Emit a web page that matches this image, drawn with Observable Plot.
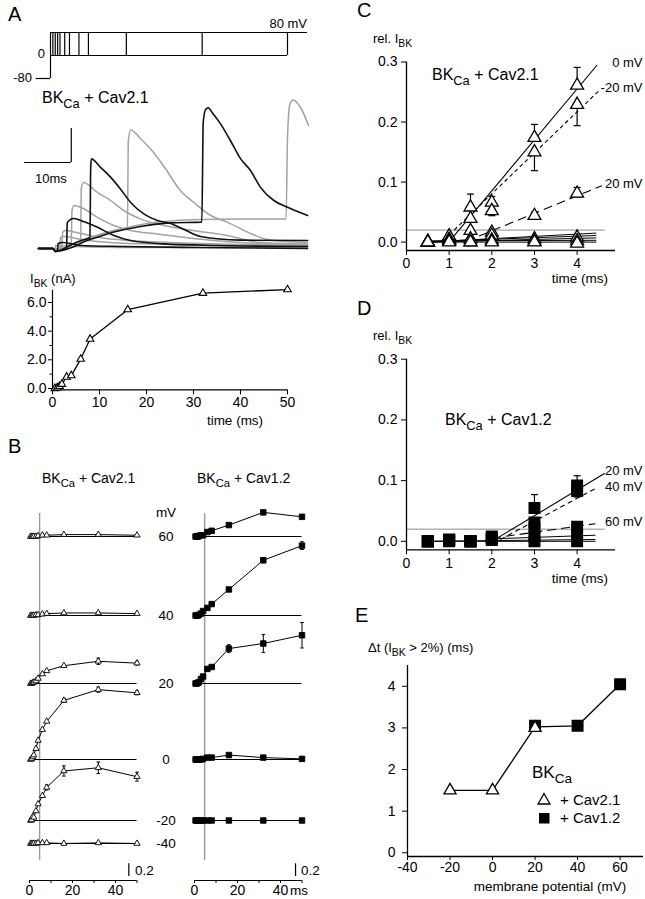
<!DOCTYPE html>
<html><head><meta charset="utf-8">
<script src="https://cdn.jsdelivr.net/npm/d3@7"></script>
<script src="https://cdn.jsdelivr.net/npm/@observablehq/plot@0.6"></script>
<style>
html,body{margin:0;padding:0;background:#fff;}
#fig{position:relative;width:645px;height:899px;overflow:hidden;background:#fff;}
</style></head><body><div id="fig"></div>
<script>
// ================= DATA =================
// Panel A – voltage protocol (mV, ms)
const protoHold = -80, protoStep = 80, protoTail = 0;
const pulseDurations = [0.5, 1, 1.5, 2, 3, 4, 6, 8, 16, 32, 50];
const protoStart = -3, protoEnd = 54.2;

// Panel A – current traces [time ms, current nA]
const traceDur = [0.5, 1, 1.5, 2, 3, 4, 6, 8, 16, 32, 50];
const traceShade = ["gray", "black", "gray", "gray", "black", "gray", "gray", "black", "gray", "black", "gray"];
const tracePts = [
  [[-3.1,0],[0,0],[0.45,-0.03],[0.6,0.15],[2,0.12],[8,0.08],[20,0.05],[54.4,0.05]],
  [[-3.1,0],[0,0],[0.5,-0.15],[0.95,-0.1],[1.1,0.25],[2,0.3],[6,0.15],[15,0.1],[30,0.05],[54.4,0]],
  [[-3.1,0],[0,0],[0.5,-0.05],[1.45,0.02],[1.6,0.55],[2.5,0.6],[6,0.45],[12,0.3],[25,0.2],[54.4,0.1]],
  [[-3.1,0],[0,0],[0.5,-0.05],[1.9,0.05],[2.05,0.8],[2.6,0.9],[5,0.8],[10,0.55],[16,0.4],[25,0.3],[40,0.2],[54.4,0.15]],
  [[-3.1,0],[0,0],[0.5,-0.15],[2,-0.05],[2.9,0.05],[3.05,1.3],[4.4,1.5],[6.5,1.35],[9.4,1.07],[13,0.65],[16.6,0.4],[23.7,0.23],[35,0.15],[54.4,0.1]],
  [[-3.1,0],[0,0],[0.5,-0.05],[2,0.05],[3.9,0.15],[4.05,1.9],[4.5,2.15],[6.5,2.0],[9.4,1.57],[13,1.15],[16.6,0.9],[22.3,0.73],[30,0.5],[40,0.3],[54.4,0.2]],
  [[-3.1,0],[0,0],[0.5,-0.05],[2,0.05],[4,0.2],[5.9,0.35],[6.05,3.0],[6.5,3.3],[9.4,2.82],[12.3,2.4],[15.1,1.9],[18.7,1.48],[23.7,1.15],[30,0.9],[37.2,0.65],[44.3,0.3],[54.4,0.23]],
  [[-3.1,0],[0,0],[0.5,-0.15],[2,-0.05],[4,0.2],[6,0.4],[7.9,0.55],[8.05,4.0],[8.2,4.48],[10.1,4.07],[12.3,3.57],[14.4,2.98],[16.6,2.3],[19.4,1.73],[22.3,1.4],[25.1,1.25],[28,0.95],[31.5,0.6],[40,0.42],[54.4,0.4]],
  [[-3.1,0],[0,0],[0.5,-0.05],[2,0.05],[4,0.2],[7,0.45],[10,0.7],[13,0.9],[15.9,1.05],[16.1,5.4],[16.6,5.93],[18.7,5.5],[21.5,4.8],[24,4.0],[27.2,2.9],[30.1,2.3],[33.7,1.65],[37.2,1.32],[42.2,0.75],[45.8,0.45],[50,0.35],[54.4,0.3]],
  [[-3.1,0],[0,0],[0.5,-0.15],[2,-0.1],[4,0.05],[7.3,0.4],[10,0.6],[13,0.82],[18.7,1.1],[25,1.28],[31.8,1.32],[32.1,6.3],[32.6,6.95],[33.2,7.03],[34,6.8],[35.8,6.23],[37.9,5.4],[40.1,4.48],[42.2,3.9],[44.3,3.07],[47.2,2.4],[50,2.07],[54.4,1.65]],
  [[-3.1,0],[0,0],[0.5,-0.05],[2,0.05],[4,0.2],[7,0.45],[10,0.7],[13,0.9],[16,1.05],[20,1.25],[25,1.38],[32,1.45],[40,1.47],[49.8,1.47],[50.1,5.5],[50.6,7.2],[51.3,7.43],[52.9,7.05],[54.6,6.15]]
];
const scaleBarMs = 10, scaleBarAmp = 1.7;

// Panel A – I_BK vs pulse duration
const ibkTime = [0.5, 1, 1.5, 2, 3, 4, 6, 8, 16, 32, 50];
const ibkNA = [0.0, 0.05, 0.15, 0.3, 0.8, 0.9, 2.05, 3.45, 5.5, 6.65, 6.9];

// Panel B – relative I_BK vs time for each potential
const bTime = [0.5, 1, 1.5, 2, 3, 4, 6, 8, 16, 32, 50];
const bVolt21 = [60, 40, 20, 0, -20, -40];
const bVal21 = [
  [0,0,0,0,0,0.01,0.02,0.02,0.03,0.03,0.02],
  [0,0,0,0,0.01,0.01,0.02,0.03,0.04,0.04,0.03],
  [0,0,0.01,0.02,0.04,0.08,0.15,0.2,0.28,0.35,0.32],
  [0,0.01,0.04,0.07,0.17,0.3,0.47,0.6,0.93,1.1,1.05],
  [0,0.01,0.06,0.05,0.15,0.26,0.39,0.52,0.78,0.83,0.69],
  [0,0,0,0,0,0.01,0.01,0.01,0,0.01,0]
];
const bErr21 = [
  [0,0,0,0,0,0,0,0,0,0.01,0],
  [0,0,0,0,0,0,0,0,0,0.01,0],
  [0,0,0,0,0,0,0,0,0,0.05,0.03],
  [0,0,0,0,0,0,0,0,0.03,0.04,0.03],
  [0,0,0,0,0,0,0,0.04,0.08,0.09,0.07],
  [0,0,0,0,0,0,0,0,0,0,0]
];
const bVolt12 = [60, 40, 20, 0, -20];
const bVal12 = [
  [0,0,0,0.01,0.02,0.02,0.07,0.09,0.18,0.38,0.31],
  [0,0,0,0.01,0.03,0.07,0.12,0.18,0.41,0.87,1.1],
  [0,0,0.01,0.02,0.07,0.11,0.23,0.26,0.55,0.63,0.76],
  [0,0,0,0,0,0.01,0.03,0.03,0.07,0.03,0.01],
  [0,0,0,0,0,0,0,0,0,0,0]
];
const bErr12 = [
  [0,0,0,0,0,0,0,0,0,0.02,0],
  [0,0,0,0,0,0,0,0,0,0.04,0.06],
  [0,0,0,0,0,0,0,0,0.06,0.14,0.2],
  [0,0,0,0,0,0,0,0,0,0,0],
  [0,0,0,0,0,0,0,0,0,0,0]
];
const bMarkerTime = 4.7;   // grey vertical reference line (ms)
const bScaleBar = 0.2;

// Panel C – BKCa + Cav2.1, early time course
const cTime = [0.5, 1, 1.5, 2, 3, 4];
const cVolt = [0, -20, 20, 40, 60, -40];
const cVal = [
  [0,0.008,0.039,0.066,0.174,0.261],
  [0,0.01,0.058,0.052,0.15,0.229],
  [0,0.003,0.019,0.016,0.044,0.081],
  [0,0.004,0.005,0.011,0.005,0.008],
  [0,0.002,0.0,0.003,0.001,0.002],
  [0,0,0,0,0,-0.002]
];
const cErrUp = [
  [0,0,0,0.01,0.022,0.03],
  [0,0,0.022,0,0,0],
  [0,0,0,0,0.006,0.01],
  [0,0,0,0.006,0,0.004],
  [0,0,0,0,0,0],
  [0,0,0,0,0,0]
];
const cErrDn = [
  [0,0,0,0,0,0],
  [0,0,0,0.008,0.031,0.035],
  [0,0,0,0,0,0.006],
  [0,0,0,0,0,0],
  [0,0,0,0,0,0],
  [0,0,0,0,0,0]
];
// linear fits: [mV, t0, v0, t1, v1]
const cFits = [[0,1.05,0.005,4.47,0.295],[-20,1.0,0.012,4.54,0.254],[20,1.7,0.01,4.58,0.094]];
const cFlats = [[0.5,0,4.45,0.015],[0.5,0.001,4.45,0.011],[0.5,0,4.45,0.007],[0.5,0.002,4.45,0.003],[0.5,0,4.45,0]];

// Panel D – BKCa + Cav1.2
const dTime = [0.5, 1, 1.5, 2, 3, 4];
const dVolt = [20, 40, 60, 0, -20];
const dVal = [
  [0,0.003,0,0.008,0.055,0.092],
  [0,0.002,0,0.006,0.031,0.083],
  [0,0.002,0,0.005,0.022,0.024],
  [0,0.002,0,0.004,0.008,0.01],
  [0,0,0,0.002,0,0]
];
const dErrUp = [[0,0,0,0,0.022,0.016],[0,0,0,0,0,0],[0,0,0,0,0,0.004],[0,0,0,0,0,0],[0,0,0,0,0,0]];
const dErrDn = [[0,0,0,0,0,0],[0,0,0,0,0.006,0.01],[0,0,0,0,0,0],[0,0,0,0,0,0],[0,0,0,0,0,0]];
const dFits = [[20,2.1,0.004,4.65,0.112],[40,2.2,0.003,4.43,0.087],[60,2.0,0.005,4.43,0.029]];
const dFlats = [[2.0,0.004,4.43,0.01],[0.5,0,4.43,0.003],[0.5,0,4.43,0]];
const threshold = 0.02;
const thresholdEnd = 4.66;

// Panel E – delay to I_BK > 2%
const eVolt21 = [-20, 0, 20], eDt21 = [1.5, 1.5, 3.0];
const eVolt12 = [20, 40, 60], eDt12 = [3.05, 3.05, 4.05];

// ================= DRAWING =================
const FONT = '"Liberation Sans", Arial, Helvetica, sans-serif';
const fig = document.getElementById("fig");
const baseStyle = {fontFamily: FONT, fontSize: "14px", background: "transparent", overflow: "visible", color: "black"};
const plain = d => String(d);
function place(el, left, top) {
  el.style.position = "absolute"; el.style.left = left + "px"; el.style.top = top + "px";
  el.style.background = "transparent"; el.style.overflow = "visible"; el.style.maxWidth = "none";
  fig.appendChild(el);
}
const capSymbol = {draw(ctx, size) { const w = Math.sqrt(size / Math.PI); ctx.moveTo(-w, 0); ctx.lineTo(w, 0); }};
function errorMarks(rows, capR, sw) {
  const up = rows.filter(d => d.eu > 0), dn = rows.filter(d => d.ed > 0);
  return [
    Plot.ruleX(up, {x: "t", y1: "y", y2: d => d.y + d.eu, stroke: "black", strokeWidth: sw}),
    Plot.ruleX(dn, {x: "t", y1: "y", y2: d => d.y - d.ed, stroke: "black", strokeWidth: sw}),
    Plot.dot(up, {x: "t", y: d => d.y + d.eu, symbol: capSymbol, r: capR, stroke: "black", fill: "none", strokeWidth: sw}),
    Plot.dot(dn, {x: "t", y: d => d.y - d.ed, symbol: capSymbol, r: capR, stroke: "black", fill: "none", strokeWidth: sw})
  ];
}

// ---- A1: protocol
place(Plot.plot({
  width: 320, height: 90, margin: 0,
  x: {domain: [-10.549, 56.962], axis: null},
  y: {domain: [-121.7, 191.3], axis: null},
  style: baseStyle,
  marks: [
    Plot.ruleY([protoHold], {x1: protoStart, x2: 0, stroke: "black", strokeWidth: 1.2}),
    Plot.ruleX([0], {y1: protoHold, y2: protoStep, stroke: "black", strokeWidth: 1.2}),
    Plot.ruleY([protoStep], {x1: 0, x2: protoEnd, stroke: "black", strokeWidth: 1.2}),
    Plot.ruleY([protoTail], {x1: 0, x2: d3.max(pulseDurations), stroke: "black", strokeWidth: 1.2}),
    Plot.ruleX(pulseDurations, {y1: protoTail, y2: protoStep, stroke: "black", strokeWidth: 1.2})
  ]
}), 0, 0);

// ---- A2: traces
const traceRows = tracePts.flatMap((pts, i) => pts.map(([t, v]) => ({dur: traceDur[i], shade: traceShade[i], t, v})));
const sbT0 = -6.1, sbI = 4.3;
place(Plot.plot({
  width: 320, height: 170, margin: 0,
  x: {domain: [-11.218, 57.158], axis: null},
  y: {domain: [-0.6, 7.9], axis: null},
  style: baseStyle,
  marks: [
    Plot.line(traceRows.filter(d => d.shade === "gray"), {x: "t", y: "v", z: "dur", stroke: "#a3a3a3", strokeWidth: 1.5, curve: "monotone-x"}),
    Plot.line(traceRows.filter(d => d.shade === "black"), {x: "t", y: "v", z: "dur", stroke: "#111", strokeWidth: 1.6, curve: "monotone-x"}),
    Plot.ruleY([sbI], {x1: sbT0, x2: sbT0 + scaleBarMs, stroke: "black", strokeWidth: 1.2}),
    Plot.ruleX([sbT0 + scaleBarMs], {y1: sbI, y2: sbI + scaleBarAmp, stroke: "black", strokeWidth: 1.2})
  ]
}), 0, 90);

// ---- A3: I_BK vs time
const ibk = ibkTime.map((t, i) => ({t, v: ibkNA[i]}));
place(Plot.plot({
  width: 320, height: 160, marginLeft: 52, marginRight: 33, marginTop: 19.8, marginBottom: 40.6,
  x: {domain: [0, 50]}, y: {domain: [-0.1, 6.85]},
  style: baseStyle,
  marks: [
    Plot.ruleX([0], {stroke: "black", strokeWidth: 1.2}),
    Plot.ruleY([-0.1], {stroke: "black", strokeWidth: 1.2}),
    Plot.axisY({ticks: [0, 2, 4, 6], tickFormat: d3.format(".1f"), tickSize: 4, tickPadding: 2, label: null}),
    Plot.axisY({ticks: [1, 3, 5], tickFormat: () => "", tickSize: 2.5, label: null}),
    Plot.axisX({ticks: [0, 10, 20, 30, 40, 50], tickFormat: plain, tickSize: 5, tickPadding: 2, label: null}),
    Plot.line(ibk, {x: "t", y: "v", stroke: "black", strokeWidth: 1.3}),
    Plot.dot(ibk, {x: "t", y: "v", symbol: "triangle", r: 2.8, fill: "white", stroke: "black", strokeWidth: 1.1})
  ]
}), 0, 270);

// ---- B: columns
const bRowPx = {"60": 536, "40": 615, "20": 683, "0": 759, "-20": 820, "-40": 843};
const bK = 63.5, bBottomPx = 880;
const bBase = v => (bBottomPx - bRowPx[v]) / bK;
function bColumn(volts, vals, errs, symbol, r, fill, ml, mr, sbT) {
  const rows = volts.map(v => ({v, base: bBase(v)}));
  const pts = volts.flatMap((v, i) => bTime.map((t, j) => ({v, t, y: bBase(v) + vals[i][j], eu: errs[i][j], ed: errs[i][j]})));
  return Plot.plot({
    width: 160, height: 459, marginLeft: ml, marginRight: mr, marginTop: 60, marginBottom: 19,
    x: {domain: [0, 50]}, y: {domain: [0, 380 / bK], axis: null},
    style: baseStyle,
    marks: [
      Plot.ruleX([bMarkerTime], {y1: (bBottomPx - 860) / bK, y2: (bBottomPx - 513) / bK, stroke: "#9a9a9a", strokeWidth: 1.4}),
      Plot.ruleY(rows, {y: "base", stroke: "black", strokeWidth: 1}),
      Plot.line(pts, {x: "t", y: "y", z: "v", stroke: "black", strokeWidth: 1}),
      ...errorMarks(pts, 1.8, 1),
      Plot.dot(pts, {x: "t", y: "y", symbol, r, fill, stroke: "black", strokeWidth: 0.9}),
      Plot.ruleY([0], {stroke: "black", strokeWidth: 1.1}),
      Plot.axisX({ticks: [0, 10, 20, 30, 40, 50], tickFormat: d => d % 20 === 0 ? String(d) : "", tickSize: 3, tickPadding: 2, label: null}),
      Plot.ruleX([sbT], {y1: (bBottomPx - 876) / bK, y2: (bBottomPx - 876) / bK + bScaleBar, stroke: "black", strokeWidth: 1.2})
    ]
  });
}
place(bColumn(bVolt21, bVal21, bErr21, "triangle", 2.3, "white", 29, 23.5, 46.2), 0, 440);
place(bColumn(bVolt12, bVal12, bErr12, "square", 3.1, "black", 34, 18.5, 47), 160, 440);

// ---- C / D
function earlyPanel(times, volts, vals, eUp, eDn, fits, flats, styles, symbol, r, mt, mb, h) {
  const pts = volts.flatMap((v, i) => times.map((t, j) => ({v, t, y: vals[i][j], eu: eUp[i][j], ed: eDn[i][j]})));
  const fitRows = fits.map(([v, t0, v0, t1, v1]) => ({v, t0, v0, t1, v1, label: v + " mV"}));
  const flatRows = flats.map(([t0, v0, t1, v1]) => ({t0, v0, t1, v1}));
  return Plot.plot({
    width: 315, height: h, marginLeft: 76, marginRight: 30, marginTop: mt, marginBottom: mb,
    x: {domain: [0, 4.9]}, y: {domain: [-0.014, 0.3]},
    style: baseStyle,
    marks: [
      Plot.ruleY([threshold], {x1: 0, x2: thresholdEnd, stroke: "#8a8a8a", strokeWidth: 1}),
      Plot.link(flatRows, {x1: "t0", y1: "v0", x2: "t1", y2: "v1", stroke: "black", strokeWidth: 1}),
      ...styles.map(([v, dash]) => Plot.link(fitRows.filter(d => d.v === v), {x1: "t0", y1: "v0", x2: "t1", y2: "v1", stroke: "black", strokeWidth: 1.1, strokeDasharray: dash})),
      ...errorMarks(pts, 3.5, 1.2),
      Plot.dot(pts, {x: "t", y: "y", symbol, r, fill: symbol === "square" ? "black" : "white", stroke: "black", strokeWidth: 1.3}),
      Plot.text(fitRows, {y: "v1", text: "label", frameAnchor: "right", textAnchor: "end", dx: 27, dy: -2, fontSize: 13}),
      Plot.ruleX([0], {stroke: "black", strokeWidth: 1.3}),
      Plot.ruleY([-0.014], {stroke: "black", strokeWidth: 1.3}),
      Plot.axisY({ticks: [0, 0.1, 0.2, 0.3], tickFormat: d3.format(".1f"), tickSize: 5, tickPadding: 4, label: null}),
      Plot.axisX({ticks: [0, 1, 2, 3, 4], tickFormat: plain, tickSize: 5, tickPadding: 3, label: null})
    ]
  });
}
place(earlyPanel(cTime, cVolt, cVal, cErrUp, cErrDn, cFits, cFlats, [[0, "none"], [-20, "4,3"], [20, "9,5"]], "triangle", 4.8, 36.5, 40, 265), 330, 25);
place(earlyPanel(dTime, dVolt, dVal, dErrUp, dErrDn, dFits, dFlats, [[20, "none"], [40, "5,3.5"], [60, "9,5"]], "square", 6.0, 28.7, 40.7, 260), 330, 330);

// ---- E
const e21 = eVolt21.map((v, i) => ({v, dt: eDt21[i]}));
const e12 = eVolt12.map((v, i) => ({v, dt: eDt12[i]}));
const eLine = d3.sort(d3.rollups([...e21, ...e12], g => d3.mean(g, d => d.dt), d => d.v).map(([v, dt]) => ({v, dt})), d => d.v);
place(Plot.plot({
  width: 315, height: 279, marginLeft: 77, marginRight: 2, marginTop: 45, marginBottom: 43,
  x: {domain: [-40, 71]}, y: {domain: [-0.09, 4.5]},
  style: baseStyle,
  marks: [
    Plot.ruleX([-40], {stroke: "black", strokeWidth: 1.3}),
    Plot.ruleY([-0.09], {stroke: "black", strokeWidth: 1.3}),
    Plot.axisY({ticks: [0, 1, 2, 3, 4], tickFormat: plain, tickSize: 5, tickPadding: 7, label: null}),
    Plot.axisX({ticks: [-40, -20, 0, 20, 40, 60], tickFormat: plain, tickSize: 4, tickPadding: 2, label: null}),
    Plot.line(eLine, {x: "v", y: "dt", stroke: "black", strokeWidth: 1.3}),
    Plot.dot(e12, {x: "v", y: "dt", symbol: "square", r: 5.9, fill: "black", stroke: "black"}),
    Plot.dot(e21, {x: "v", y: "dt", symbol: "triangle", r: 4.5, fill: "white", stroke: "black", strokeWidth: 1.3})
  ]
}), 330, 620);

// ---- overlay text (labels, titles)
const NS = "http://www.w3.org/2000/svg";
const overlay = document.createElementNS(NS, "svg");
overlay.setAttribute("width", 645); overlay.setAttribute("height", 899);
overlay.style.cssText = "position:absolute;left:0;top:0;pointer-events:none;overflow:visible";
overlay.setAttribute("font-family", FONT);
fig.appendChild(overlay);
function svgText(x, y, size, str, anchor = "start") {
  const t = document.createElementNS(NS, "text");
  t.setAttribute("x", x); t.setAttribute("y", y); t.setAttribute("font-size", size);
  t.setAttribute("text-anchor", anchor); t.setAttribute("fill", "black");
  t.style.whiteSpace = "pre";
  let shifted = false;
  for (const p of str.split(/(_\{[^}]*\})/).filter(s => s)) {
    const ts = document.createElementNS(NS, "tspan");
    if (p.startsWith("_{")) {
      ts.textContent = p.slice(2, -1); ts.setAttribute("font-size", size * 0.8); ts.setAttribute("dy", size * 0.3); shifted = true;
    } else {
      ts.textContent = p; if (shifted) { ts.setAttribute("dy", -size * 0.3); shifted = false; }
    }
    t.appendChild(ts);
  }
  overlay.appendChild(t);
}
const labels = [
  [8, 21, 20, "A"], [307, 28, 13, "80 mV", "end"], [45, 58, 13, "0", "end"], [32, 82, 13, "-80", "end"],
  [42, 103, 16, "BK_{Ca} + Cav2.1"], [35, 183, 13, "10ms"],
  [30, 283, 13, "I_{BK} (nA)"], [235, 425, 13.5, "time (ms)", "middle"],
  [8, 453, 20, "B"], [42, 483, 14, "BK_{Ca} + Cav2.1"], [197, 483, 14, "BK_{Ca} + Cav1.2"],
  [166, 517, 13.5, "mV", "middle"],
  [135, 875, 13.5, "0.2"], [301, 875, 13.5, "0.2"], [290, 895, 13.5, "ms"],
  [357, 17, 20, "C"], [373, 43, 13, "rel. I_{BK}"], [432, 80, 16, "BK_{Ca} + Cav2.1"], [608, 283, 13.5, "time (ms)", "end"],
  [357, 315, 20, "D"], [373, 340, 13, "rel. I_{BK}"], [445, 425, 16, "BK_{Ca} + Cav1.2"], [608, 583, 13.5, "time (ms)", "end"],
  [355, 622, 20, "E"], [368, 652, 13, "\u0394t (I_{BK} > 2%) (ms)"], [550, 891, 13.5, "membrane potential (mV)", "middle"],
  [532, 778, 17, "BK_{Ca}"], [560, 805, 15, "+ Cav2.1"], [560, 823, 15, "+ Cav1.2"]
];
for (const [x, y, s, t, a] of labels) svgText(x, y, s, t, a);
for (const v of bVolt21) svgText(166, bRowPx[v] + 4.5, 13.5, String(v), "middle");
// legend symbols for E
const tri = document.createElementNS(NS, "path");
tri.setAttribute("d", "M544,793.5 L550,804 L538,804 Z"); tri.setAttribute("fill", "white"); tri.setAttribute("stroke", "black"); tri.setAttribute("stroke-width", 1.3);
overlay.appendChild(tri);
const sq = document.createElementNS(NS, "rect");
sq.setAttribute("x", 539); sq.setAttribute("y", 813); sq.setAttribute("width", 10.5); sq.setAttribute("height", 10.5); sq.setAttribute("fill", "black");
overlay.appendChild(sq);
</script></body></html>
